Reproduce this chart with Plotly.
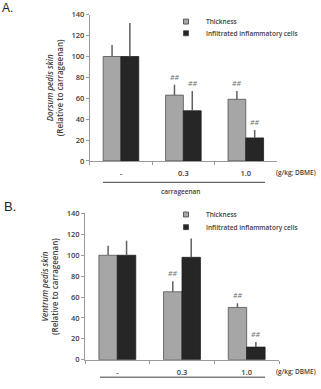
import plotly.graph_objects as go

W, H = 321, 389

categories = ["-", "0.3", "1.0"]
series_names = ["Thickness", "Infiltrated inflammatory cells"]

A_thick = [100, 63, 59]
A_thick_err = [11, 10, 8]
A_cells = [100, 48, 22]
A_cells_err = [32, 19, 7.5]
A_thick_sig = ["", "##", "##"]
A_cells_sig = ["", "##", "##"]

B_thick = [100, 65, 50]
B_thick_err = [9, 10, 4]
B_cells = [100, 98, 12]
B_cells_err = [14, 18, 5]
B_thick_sig = ["", "##", "##"]
B_cells_sig = ["", "", "##"]

y_ticks = [0, 20, 40, 60, 80, 100, 120, 140]

GRAY = "#a6a6a6"
BLACK = "#262626"
TXT = "#404040"
FONT = "Open Sans"


def px(x):
    return x / W


def py(y):
    return 1 - y / H


fig = go.Figure()

panels = [
    dict(xa="x", ya="y", legs=("legend", "legend2"), thick=A_thick, te=A_thick_err, cells=A_cells,
         ce=A_cells_err, ts=A_thick_sig, cs=A_cells_sig),
    dict(xa="x2", ya="y2", legs=("legend3", "legend4"), thick=B_thick, te=B_thick_err, cells=B_cells,
         ce=B_cells_err, ts=B_thick_sig, cs=B_cells_sig),
]

colors = [GRAY, BLACK]
lines = ["#505050", "#202020"]

for p in panels:
    for k, (vals, errs) in enumerate(((p["thick"], p["te"]), (p["cells"], p["ce"]))):
        fig.add_trace(go.Bar(
            x=categories, y=vals, name=series_names[k], xaxis=p["xa"], yaxis=p["ya"],
            showlegend=False, legendgroup=series_names[k],
            marker=dict(color=colors[k], line=dict(color=lines[k], width=0.8)),
            error_y=dict(type="data", array=errs, arrayminus=[0] * 3, symmetric=False,
                         color="#606060", thickness=1.5, width=0),
        ))
    # small square legend keys
    for k in range(2):
        fig.add_trace(go.Scatter(
            x=[None], y=[None], mode="markers", name=series_names[k], xaxis=p["xa"],
            yaxis=p["ya"], legend=p["legs"][k], legendgroup=series_names[k],
            marker=dict(symbol="square", size=5, color=colors[k],
                        line=dict(color="#404040", width=0.8)),
        ))

bargap = 0.43
half = (1 - bargap) / 4

annotations = []
for p in panels:
    for i in range(3):
        for vals, errs, sig, off in ((p["thick"], p["te"], p["ts"], -half),
                                     (p["cells"], p["ce"], p["cs"], half)):
            if sig[i]:
                annotations.append(dict(
                    x=i + off, y=vals[i] + errs[i], xref=p["xa"], yref=p["ya"],
                    text="<i>" + sig[i] + "</i>", showarrow=False, yanchor="bottom",
                    yshift=1, font=dict(family=FONT, size=7, color="#707070")))

small = dict(family=FONT, size=6.5, color=TXT, weight=600)
annotations += [
    dict(x=px(0), y=py(-6), xref="paper", yref="paper", text="A.", showarrow=False,
         xanchor="left", yanchor="top", font=dict(family="Liberation Sans", size=12, color="#222")),
    dict(x=px(2), y=py(197), xref="paper", yref="paper", text="B.", showarrow=False,
         xanchor="left", yanchor="top", font=dict(family="Liberation Sans", size=13, color="#222")),
    dict(x=px(274), y=py(172), xref="paper", yref="paper", text="(g/kg; DBME)", showarrow=False,
         xanchor="left", yanchor="middle", font=small),
    dict(x=px(274), y=py(376), xref="paper", yref="paper", text="(g/kg; DBME)", showarrow=False,
         xanchor="left", yanchor="middle", font=small),
    dict(x=px(181), y=py(191), xref="paper", yref="paper", text="carrageenan", showarrow=False,
         xanchor="center", yanchor="middle", font=small),
]

shapes = [
    dict(type="line", xref="paper", yref="paper", x0=px(103), x1=px(265), y0=py(182), y1=py(182),
         line=dict(color="#404040", width=1)),
    dict(type="line", xref="paper", yref="paper", x0=px(100), x1=px(265), y0=py(382), y1=py(382),
         line=dict(color="#404040", width=1)),
]

ax_common = dict(showline=True, linecolor="#9a9a9a", linewidth=1, ticks="outside",
                 ticklen=3, tickcolor="#9a9a9a", showgrid=False, zeroline=False,
                 tickfont=dict(family=FONT, size=7.5, color=TXT, weight=600))

ytitle_A = "<i>Dorsum pedis skin</i><br>(Relative to carrageenan)"
ytitle_B = "<i>Ventrum pedis skin</i><br>(Relative to carrageenan)"

leg_font = dict(family=FONT, size=6.5, color=TXT, weight=600)


def leg(x, y):
    return dict(x=px(x), y=py(y), xanchor="left", yanchor="middle", bgcolor="rgba(0,0,0,0)",
                font=leg_font, itemwidth=30, borderwidth=0)


fig.update_layout(
    width=W, height=H, margin=dict(l=0, r=0, t=0, b=0),
    paper_bgcolor="white", plot_bgcolor="white",
    barmode="group", bargap=bargap, bargroupgap=0,
    xaxis=dict(domain=[px(89.75), px(277)], anchor="y", tickson="boundaries",
               ticklabelstandoff=5, range=[-0.5, 2.5], **ax_common),
    yaxis=dict(domain=[py(160), py(10)], anchor="x", range=[0, 140], tickvals=y_ticks,
               title=dict(text=ytitle_A, standoff=6,
                          font=dict(family=FONT, size=8, color=TXT, weight=600)),
               **ax_common),
    xaxis2=dict(domain=[px(85), px(279)], anchor="y2", tickson="boundaries",
                ticklabelstandoff=5, range=[-0.5, 2.5], **ax_common),
    yaxis2=dict(domain=[py(364), py(214)], anchor="x2", range=[0, 140], tickvals=y_ticks,
                title=dict(text=ytitle_B, standoff=6,
                           font=dict(family=FONT, size=8, color=TXT, weight=600)),
                **ax_common),
    legend=leg(166, 17),
    legend2=leg(166, 29),
    legend3=leg(166, 215),
    legend4=leg(166, 228),
    annotations=annotations, shapes=shapes,
)

fig.write_html("out.html")
